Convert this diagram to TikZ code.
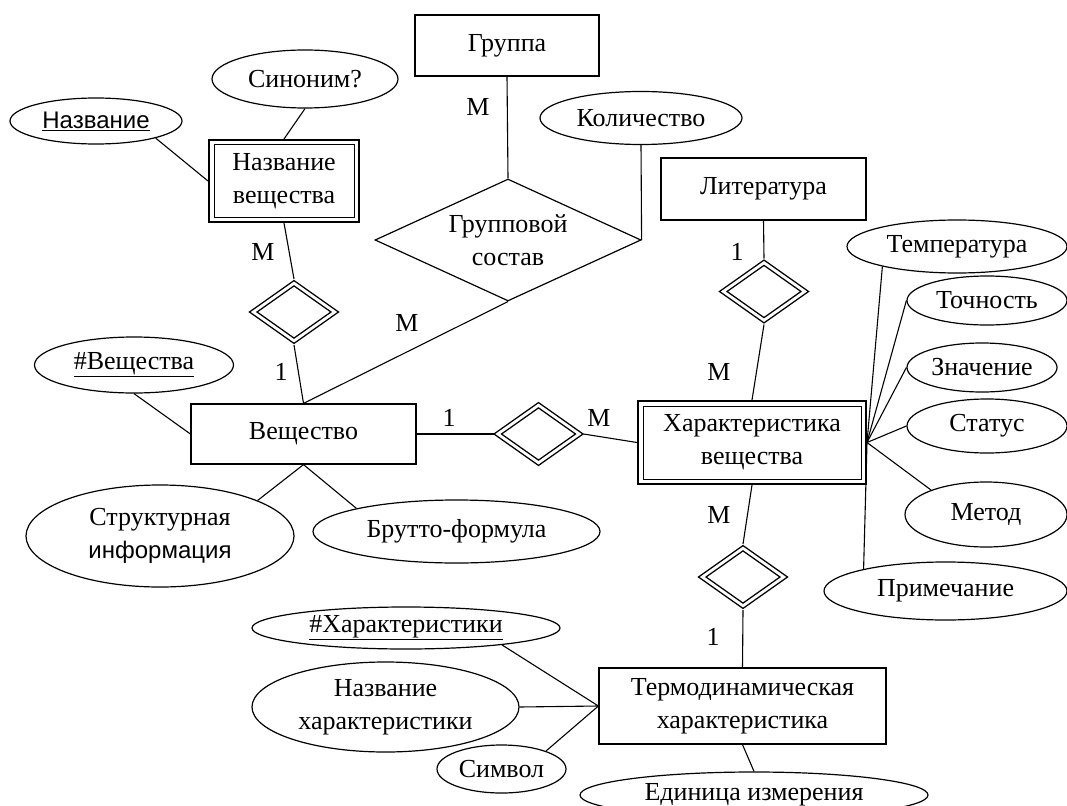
\documentclass[tikz,border=0pt]{standalone}
\usepackage{fontspec}
\setmainfont{Liberation Serif}
\newfontfamily\arialfont{Liberation Sans}
\usetikzlibrary{shapes.geometric}
\begin{document}
\begin{tikzpicture}[x=1pt,y=1pt]
\tikzstyle{every node}+=[inner sep=0pt, align=center, font=\fontsize{26}{33}\selectfont]
\tikzstyle{entity}=[draw, rectangle, line width=1.2pt]
\tikzstyle{weak}=[draw, rectangle, line width=2pt]
\tikzstyle{attr}=[draw, ellipse, line width=1.2pt]
\tikzstyle{rel}=[draw, diamond, line width=1.4pt, double, double distance=2.8pt, minimum width=84pt, minimum height=60pt, outer sep=3pt]
\tikzstyle{link}=[line width=1.1pt]
\useasboundingbox (0,0) rectangle (1067,-805);
% entities
\node [entity, minimum width=184pt, minimum height=61pt] (gruppa) at (507,-45.5) {Группа};
\node [weak, minimum width=150pt, minimum height=82pt] (nazvv) at (284,-181) {Название\\вещества};
\node [entity, minimum width=225pt, minimum height=60pt] (vesh) at (303.5,-434) {Вещество};
\node [entity, minimum width=205pt, minimum height=62pt] (lit) at (763.5,-189) {Литература};
\node [weak, minimum width=228pt, minimum height=83pt] (harv) at (752,-442.5) {Характеристика\\вещества};
\node [entity, minimum width=287pt, minimum height=76pt] (term) at (742.5,-706) {Термодинамическая\\характеристика};
\foreach \n in {nazvv,harv}
  \draw [line width=1pt] ([shift={(6,-6)}]\n.north west) rectangle ([shift={(-6,6)}]\n.south east);
% relationships
\node [rel] (d1) at (294,-312) {};
\node [rel] (d2) at (538.5,-434) {};
\node [rel] (d3) at (764,-291.5) {};
\node [rel] (d4) at (743,-577) {};
\node [draw, diamond, aspect=2.18, line width=1.2pt, minimum width=266pt, minimum height=122pt] (grp) at (508,-240) {Групповой\\состав};
% attributes
\node [attr, minimum width=172pt, minimum height=46pt] (naz) at (96,-121) {\arialfont\fontsize{24}{29}\selectfont\underline{Название}};
\node [attr, minimum width=186pt, minimum height=58pt] (syn) at (305,-79) {Синоним?};
\node [attr, minimum width=202pt, minimum height=53pt] (kol) at (641,-118) {Количество};
\node [attr, minimum width=199pt, minimum height=56pt] (vid) at (134,-365) {\underline{\#Вещества}};
\node [attr, minimum width=268pt, minimum height=102pt] (str) at (160,-536) {Структурная\\\arialfont\fontsize{24}{33}\selectfont информация};
\node [attr, minimum width=287pt, minimum height=63pt] (bru) at (456.5,-531.5) {Брутто-формула};
\node [attr, minimum width=220pt, minimum height=53pt] (tem) at (957,-246.5) {Температура};
\node [attr, minimum width=160pt, minimum height=49pt] (toch) at (987,-300.5) {Точность};
\node [attr, minimum width=150pt, minimum height=49pt] (znach) at (982,-367.5) {Значение};
\node [attr, minimum width=160pt, minimum height=54pt] (stat) at (987,-426) {Статус};
\node [attr, minimum width=162pt, minimum height=65pt] (met) at (986,-514.5) {Метод};
\node [attr, minimum width=243pt, minimum height=58pt] (pri) at (945.5,-591) {Примечание};
\node [attr, minimum width=308pt, minimum height=42pt] (hid) at (406,-628) {\underline{\#Характеристики}};
\node [attr, minimum width=267pt, minimum height=90pt] (nch) at (385.5,-707) {Название\\характеристики};
\node [attr, minimum width=129pt, minimum height=48pt] (sym) at (501.5,-769) {Символ};
\node [attr, minimum width=348pt, minimum height=46pt] (edi) at (754,-795) {Единица измерения};
% cardinalities
\foreach \t/\x/\y [count=\i] in {M/263/252, 1/281/372, M/478/107, M/407/323, 1/449/418, M/599/418, 1/737/252, M/719/372, M/719/515, 1/713/637}
  \node (card\i) at (\x,-\y) {\t};
% links
\draw [link] (naz.-16) -- (nazvv.west);
\draw [link] (syn.south) -- (nazvv.north);
\draw [link] (nazvv.south) -- (d1.north);
\draw [link] (d1.south) -- (vesh.north);
\draw [link] (vesh.north) -- (grp.south);
\draw [link] (gruppa.south) -- (grp.north);
\draw [link] (kol.south) -- (grp.east);
\draw [link] (vid.south) -- (vesh.west);
\draw [link] (vesh.south) -- (str.20);
\draw [link] (vesh.south) -- (bru.167);
\draw [link] (vesh.east) -- (d2.west);
\draw [link] (d2.east) -- (harv.west);
\draw [link] (lit.south) -- (d3.north);
\draw [link] (d3.south) -- (harv.north);
\draw [link] (harv.south) -- (d4.north);
\draw [link] (d4.south) -- (term.north);
\foreach \a in {tem.195, toch.west, znach.west, stat.west, met.156, pri.165}
  \draw [link] (harv.east) -- (\a);
\foreach \a in {hid.-10, nch.east, sym.22}
  \draw [link] (term.west) -- (\a);
\draw [link] (term.south) -- (edi.north);
\end{tikzpicture}
\end{document}
